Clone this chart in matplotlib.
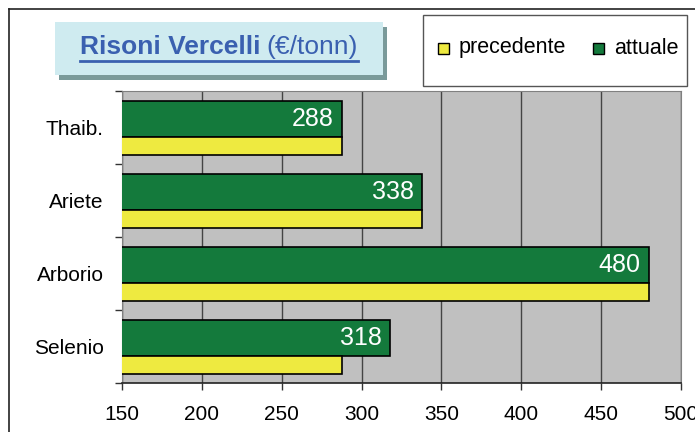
import numpy as np
import matplotlib
matplotlib.use('Agg')
import matplotlib.pyplot as plt
from matplotlib.patches import Rectangle
from matplotlib.lines import Line2D

plt.rcParams['font.family'] = ['Liberation Sans', 'DejaVu Sans']

#%% data
categories = ['Selenio', 'Arborio', 'Ariete', 'Thaib.']
attuale = [318, 480, 338, 288]
precedente = [288, 480, 338, 288]

W, H = 695, 432
green = '#147A3C'
yellow = '#EEEA40'

#%% figure
fig = plt.figure(figsize=(W / 100, H / 100), dpi=100)

# outer frame (top and left edge visible)
fig.add_artist(Line2D([9 / W, 1], [1 - 9 / H, 1 - 9 / H], color='#222222', lw=1.2))
fig.add_artist(Line2D([9 / W, 9 / W], [0, 1 - 9 / H], color='#222222', lw=1.2))

ax = fig.add_axes([122 / W, (H - 383) / H, 559 / W, 292 / H])
ax.set_facecolor('#C0C0C0')

y = np.arange(len(categories))
ax.barh(y + 0.616, attuale, height=0.493, left=0, color=green, edgecolor='black', lw=1.2, zorder=3)
ax.barh(y + 0.247, precedente, height=0.247, left=0, color=yellow, edgecolor='black', lw=1.2, zorder=3)

for i, v in enumerate(attuale):
    ax.annotate(str(v), xy=(v, i + 0.616), xytext=(-6, 0), textcoords='offset points',
                ha='right', va='center', color='white', fontsize=18, zorder=4)

ax.set_xlim(150, 500)
ax.set_ylim(0, len(categories))
ax.set_xticks(np.arange(150, 501, 50))
ax.tick_params(axis='x', labelsize=15, length=5, width=1, color='#333333', pad=11)
ax.set_yticks(y + 0.5)
ax.set_yticklabels(categories, fontsize=15)
ax.set_yticks(np.arange(0, len(categories) + 1), minor=True)
ax.tick_params(axis='y', which='major', length=0, pad=13)
ax.tick_params(axis='y', which='minor', length=5, width=1, color='#333333')
ax.grid(axis='x', color='#444444', lw=1, zorder=1)
ax.set_axisbelow(True)
for s in ['top', 'right', 'left']:
    ax.spines[s].set_color('#808080')
ax.spines['bottom'].set_color('#222222')
ax.spines['bottom'].set_linewidth(1.2)

# title box with shadow
fig.add_artist(Rectangle((59 / W, 1 - 80 / H), 328 / W, 53 / H, transform=fig.transFigure,
                         facecolor='#7A9A9A', edgecolor='none'))
fig.add_artist(Rectangle((55 / W, 1 - 75 / H), 328 / W, 53 / H, transform=fig.transFigure,
                         facecolor='#CFEBF0', edgecolor='none'))
tcol = '#3A60B0'
t1 = fig.text(80 / W, 1 - 47 / H, 'Risoni Vercelli', fontsize=19, fontweight='bold',
              color=tcol, va='center', ha='left')
fig.canvas.draw()
r = fig.canvas.get_renderer()
bb1 = t1.get_window_extent(r)
t2 = fig.text(bb1.x1 / W + 6 / W, 1 - 47 / H, '(€/tonn)', fontsize=19, color=tcol,
              va='center', ha='left')
bb2 = t2.get_window_extent(r)
fig.add_artist(Line2D([bb1.x0 / W, bb2.x1 / W], [1 - 61 / H, 1 - 61 / H], color=tcol, lw=2))

# legend box
fig.add_artist(Rectangle((423 / W, 1 - 86 / H), 264 / W, 71 / H, transform=fig.transFigure,
                         facecolor='white', edgecolor='#555555', lw=1))
for xs, col, lab in [(438, yellow, 'precedente'), (593, green, 'attuale')]:
    fig.add_artist(Rectangle((xs / W, 1 - 54 / H), 11 / W, 11 / H, transform=fig.transFigure,
                             facecolor=col, edgecolor='black', lw=1))
    fig.text((xs + 21) / W, 1 - 48 / H, lab, fontsize=15.5, va='center', ha='left')

fig.savefig('out.png', dpi=100)
